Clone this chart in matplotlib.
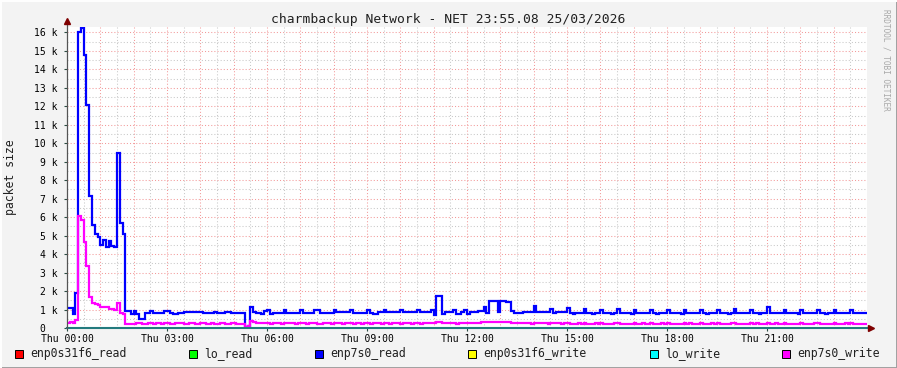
#!/usr/bin/env python3
import numpy as np
import matplotlib
matplotlib.use("Agg")
import matplotlib.pyplot as plt
from matplotlib.patches import Rectangle
from matplotlib.lines import Line2D

# packets per 5 minute step, in thousands (k), 288 steps = 24 hours
enp7s0_read = [
    1.1, 1.1, 0.76, 1.9, 16.0, 16.25, 14.8, 12.05, 7.15, 5.55, 5.1, 4.93,
    4.5, 4.77, 4.41, 4.73, 4.45, 4.4, 9.5, 5.7, 5.1, 0.94, 0.94, 0.75,
    0.94, 0.75, 0.49, 0.49, 0.8, 0.8, 0.94, 0.8, 0.8, 0.8, 0.8, 0.9,
    0.9, 0.8, 0.74, 0.74, 0.8, 0.8, 0.88, 0.84, 0.84, 0.84, 0.84, 0.88,
    0.88, 0.8, 0.8, 0.8, 0.8, 0.88, 0.8, 0.8, 0.8, 0.88, 0.88, 0.8,
    0.8, 0.8, 0.8, 0.8, 0.03, 0.1, 1.16, 0.86, 0.8, 0.8, 0.74, 0.92,
    0.96, 0.74, 0.8, 0.8, 0.8, 0.8, 0.98, 0.8, 0.8, 0.8, 0.8, 0.8,
    0.96, 0.8, 0.8, 0.8, 0.8, 0.98, 0.98, 0.8, 0.8, 0.8, 0.8, 0.8,
    0.96, 0.85, 0.85, 0.85, 0.85, 0.85, 0.98, 0.8, 0.8, 0.8, 0.8, 0.8,
    1.0, 0.8, 0.74, 0.74, 0.85, 0.85, 1.0, 0.85, 0.85, 0.85, 0.85, 0.85,
    1.0, 0.85, 0.85, 0.85, 0.85, 0.85, 1.0, 0.85, 0.85, 0.85, 0.85, 0.95,
    0.7, 1.74, 1.74, 0.75, 0.85, 0.85, 0.85, 1.0, 0.78, 0.78, 0.85, 1.0,
    0.74, 0.85, 0.85, 0.85, 0.9, 0.9, 1.16, 0.8, 1.48, 1.48, 1.48, 0.85,
    1.45, 1.45, 1.43, 1.43, 0.94, 0.8, 0.8, 0.8, 0.88, 0.85, 0.85, 0.85,
    1.19, 0.85, 0.85, 0.85, 0.85, 0.85, 1.05, 0.8, 0.85, 0.85, 0.85, 0.85,
    1.1, 0.83, 0.78, 0.83, 0.83, 0.83, 1.05, 0.83, 0.83, 0.78, 0.83, 0.83,
    1.0, 0.83, 0.83, 0.83, 0.78, 0.83, 1.05, 0.83, 0.83, 0.83, 0.83, 0.78,
    1.0, 0.83, 0.83, 0.83, 0.83, 0.83, 1.0, 0.83, 0.78, 0.83, 0.83, 0.83,
    1.0, 0.83, 0.83, 0.83, 0.83, 0.78, 1.0, 0.83, 0.83, 0.83, 0.83, 0.83,
    1.0, 0.83, 0.78, 0.83, 0.83, 0.83, 1.0, 0.83, 0.83, 0.83, 0.78, 0.83,
    1.05, 0.83, 0.83, 0.83, 0.83, 0.83, 1.0, 0.83, 0.83, 0.78, 0.83, 0.83,
    1.12, 0.83, 0.83, 0.83, 0.83, 0.83, 1.0, 0.83, 0.83, 0.83, 0.83, 0.78,
    1.0, 0.83, 0.83, 0.83, 0.83, 0.83, 1.0, 0.83, 0.83, 0.78, 0.83, 0.83,
    1.0, 0.83, 0.83, 0.83, 0.83, 0.83, 1.0, 0.83, 0.83, 0.83, 0.83, 0.83,
]

enp7s0_write = [
    0.25, 0.34, 0.28, 0.43, 6.04, 5.86, 4.68, 3.33, 1.7, 1.37, 1.3, 1.25,
    1.16, 1.12, 1.12, 1.05, 1.05, 1.0, 1.37, 0.83, 0.76, 0.22, 0.22, 0.22,
    0.22, 0.25, 0.25, 0.22, 0.22, 0.25, 0.25, 0.22, 0.25, 0.25, 0.22, 0.25,
    0.25, 0.22, 0.22, 0.25, 0.25, 0.25, 0.22, 0.22, 0.25, 0.25, 0.22, 0.22,
    0.25, 0.25, 0.22, 0.22, 0.25, 0.22, 0.22, 0.25, 0.25, 0.22, 0.22, 0.25,
    0.25, 0.22, 0.22, 0.22, 0.03, 0.12, 0.38, 0.3, 0.27, 0.25, 0.25, 0.25,
    0.25, 0.22, 0.25, 0.25, 0.25, 0.22, 0.25, 0.25, 0.25, 0.25, 0.22, 0.25,
    0.25, 0.25, 0.22, 0.25, 0.25, 0.25, 0.22, 0.22, 0.25, 0.25, 0.25, 0.22,
    0.25, 0.25, 0.25, 0.22, 0.25, 0.25, 0.25, 0.22, 0.25, 0.25, 0.22, 0.25,
    0.25, 0.22, 0.25, 0.25, 0.25, 0.22, 0.25, 0.25, 0.22, 0.25, 0.25, 0.25,
    0.22, 0.25, 0.25, 0.25, 0.22, 0.25, 0.25, 0.22, 0.25, 0.25, 0.25, 0.25,
    0.25, 0.34, 0.3, 0.25, 0.25, 0.25, 0.25, 0.25, 0.22, 0.25, 0.25, 0.25,
    0.25, 0.25, 0.25, 0.27, 0.27, 0.3, 0.3, 0.34, 0.34, 0.3, 0.34, 0.34,
    0.3, 0.34, 0.34, 0.3, 0.27, 0.27, 0.25, 0.25, 0.25, 0.25, 0.25, 0.22,
    0.25, 0.25, 0.25, 0.25, 0.25, 0.22, 0.28, 0.25, 0.25, 0.25, 0.22, 0.25,
    0.28, 0.22, 0.22, 0.22, 0.25, 0.22, 0.28, 0.22, 0.22, 0.22, 0.25, 0.22,
    0.28, 0.22, 0.22, 0.22, 0.22, 0.25, 0.28, 0.22, 0.22, 0.22, 0.22, 0.22,
    0.28, 0.22, 0.22, 0.25, 0.22, 0.22, 0.28, 0.22, 0.22, 0.22, 0.25, 0.22,
    0.28, 0.22, 0.22, 0.22, 0.22, 0.22, 0.28, 0.22, 0.25, 0.22, 0.22, 0.22,
    0.28, 0.22, 0.22, 0.22, 0.25, 0.22, 0.28, 0.22, 0.22, 0.22, 0.22, 0.25,
    0.28, 0.22, 0.22, 0.22, 0.22, 0.22, 0.28, 0.22, 0.25, 0.22, 0.22, 0.22,
    0.28, 0.22, 0.22, 0.25, 0.22, 0.22, 0.28, 0.22, 0.22, 0.22, 0.22, 0.22,
    0.28, 0.22, 0.22, 0.22, 0.22, 0.25, 0.28, 0.22, 0.22, 0.22, 0.22, 0.22,
    0.28, 0.22, 0.22, 0.22, 0.25, 0.22, 0.28, 0.22, 0.22, 0.22, 0.22, 0.22,
]

# the other interfaces stay at zero the whole day
enp0s31f6_read = [0.0] * 288
lo_read = [0.0] * 288
enp0s31f6_write = [0.0] * 288
lo_write = [0.0] * 288

series_names = ["enp0s31f6_read", "lo_read", "enp7s0_read",
                "enp0s31f6_write", "lo_write", "enp7s0_write"]
series_colors = ["#FF0000", "#00FF00", "#0000FF", "#FFFF00", "#00FFFF", "#FF00FF"]
series_values = [enp0s31f6_read, lo_read, enp7s0_read,
                 enp0s31f6_write, lo_write, enp7s0_write]

x_tick_hours = [0, 3, 6, 9, 12, 15, 18, 21]
x_tick_labels = ["Thu 00:00", "Thu 03:00", "Thu 06:00", "Thu 09:00",
                 "Thu 12:00", "Thu 15:00", "Thu 18:00", "Thu 21:00"]
y_tick_values = list(range(0, 17))
y_tick_labels = ["0  "] + [f"{v} k" for v in range(1, 17)]

title = "charmbackup Network - NET 23:55.08 25/03/2026"
step_minutes = 5

W, H = 897, 368
BACK = "#F3F3F3"
AXIS = "#2C4D43"
ARROW = "#7F0000"
MONO = "DejaVu Sans Mono"


def px(x, y):
    """pixel (from top-left) -> figure fraction"""
    return x / W, 1 - y / H


fig = plt.figure(figsize=(W / 100, H / 100), dpi=100, facecolor=BACK)
left, right, top, bottom = 67, 867, 27, 328
ax = fig.add_axes([left / W, 1 - bottom / H, (right - left) / W, (bottom - top) / H])
ax.set_facecolor("white")
ymax = (bottom - top) / 18.47
ax.set_xlim(0, 24)
ax.set_ylim(0, ymax)
for s in ax.spines.values():
    s.set_visible(False)

# grid: gray every half unit, red every full unit
dots = (0, (1, 2))
for h in np.arange(0.5, 24, 0.5):
    major = float(h).is_integer()
    ax.axvline(h, color="#F08080" if major else "#C8C8C8", lw=0.75,
               ls=dots, alpha=0.8 if major else 1.0, zorder=1)
for v in np.arange(0.5, ymax, 0.5):
    major = float(v).is_integer()
    ax.axhline(v, color="#F08080" if major else "#C8C8C8", lw=0.75,
               ls=dots, alpha=0.8 if major else 1.0, zorder=1)

t = np.arange(len(enp7s0_read) + 1) * step_minutes / 60.0
for name, col, vals in zip(series_names, series_colors, series_values):
    v = list(vals) + [vals[-1]]
    # flat zero lines mostly hide under the axis, as in rrdtool
    lw = 1.6 if max(vals) > 0 else 1.0
    ax.step(t[:len(v)], v, where="post", color=col, lw=lw, zorder=3,
            solid_joinstyle="miter")

# axes with arrows (x axis sits on top of the zero lines)
ax.plot([0, 24.05], [0, 0], color="#237A7E", lw=1.5, clip_on=False, zorder=5)
ax.plot([0, 0], [0, ymax + 0.2], color="#555555", lw=0.9, clip_on=False, zorder=5)
ax.plot([24.12], [0], marker=">", color=ARROW, ms=4.5, clip_on=False, zorder=6)
ax.plot([0], [ymax + 0.3], marker="^", color=ARROW, ms=4.5, clip_on=False, zorder=6)

ax.set_xticks(x_tick_hours)
ax.set_xticklabels(x_tick_labels, fontfamily=MONO, fontsize=7)
ax.set_yticks(y_tick_values)
ax.set_yticklabels(y_tick_labels, fontfamily=MONO, fontsize=7)
ax.tick_params(axis="x", length=2, color=AXIS, pad=2.0)
ax.tick_params(axis="y", length=2, color=AXIS, pad=4.5)

fig.text(*px(448.5, 19), title, ha="center", va="center",
         fontfamily=MONO, fontsize=9.4, color="#202020")
fig.text(*px(11, 177), "packet size", ha="center", va="center", rotation=90,
         fontfamily=MONO, fontsize=8.3, color="#202020")
fig.text(*px(886, 60), "RRDTOOL / TOBI OETIKER", ha="center", va="center",
         rotation=270, fontfamily=MONO, fontsize=5.6, color="#A8A8A8")

# legend along the bottom
legend_x = [15, 189, 315, 468, 650, 782]
for lx, name, col in zip(legend_x, series_names, series_colors):
    x0, y0 = px(lx, 358)
    fig.patches.append(Rectangle((x0, y0), 8 / W, 8 / H, transform=fig.transFigure,
                                 facecolor=col, edgecolor="black", lw=0.7))
    fig.text(*px(lx + 15, 354), name, ha="left", va="center",
             fontfamily=MONO, fontsize=8.3, color="#202020")

# frame of the image
fig.lines.append(Line2D([0, 1], [0.5 / H, 0.5 / H], transform=fig.transFigure,
                        color="#A0A0A0", lw=1.4))
fig.lines.append(Line2D([1 - 0.5 / W, 1 - 0.5 / W], [0, 1], transform=fig.transFigure,
                        color="#A0A0A0", lw=1.4))
fig.lines.append(Line2D([0, 1], [1 - 0.5 / H, 1 - 0.5 / H], transform=fig.transFigure,
                        color="#FFFFFF", lw=1.4))
fig.lines.append(Line2D([0.5 / W, 0.5 / W], [0, 1], transform=fig.transFigure,
                        color="#FFFFFF", lw=1.4))

fig.savefig("out.png", dpi=100, facecolor=BACK)
